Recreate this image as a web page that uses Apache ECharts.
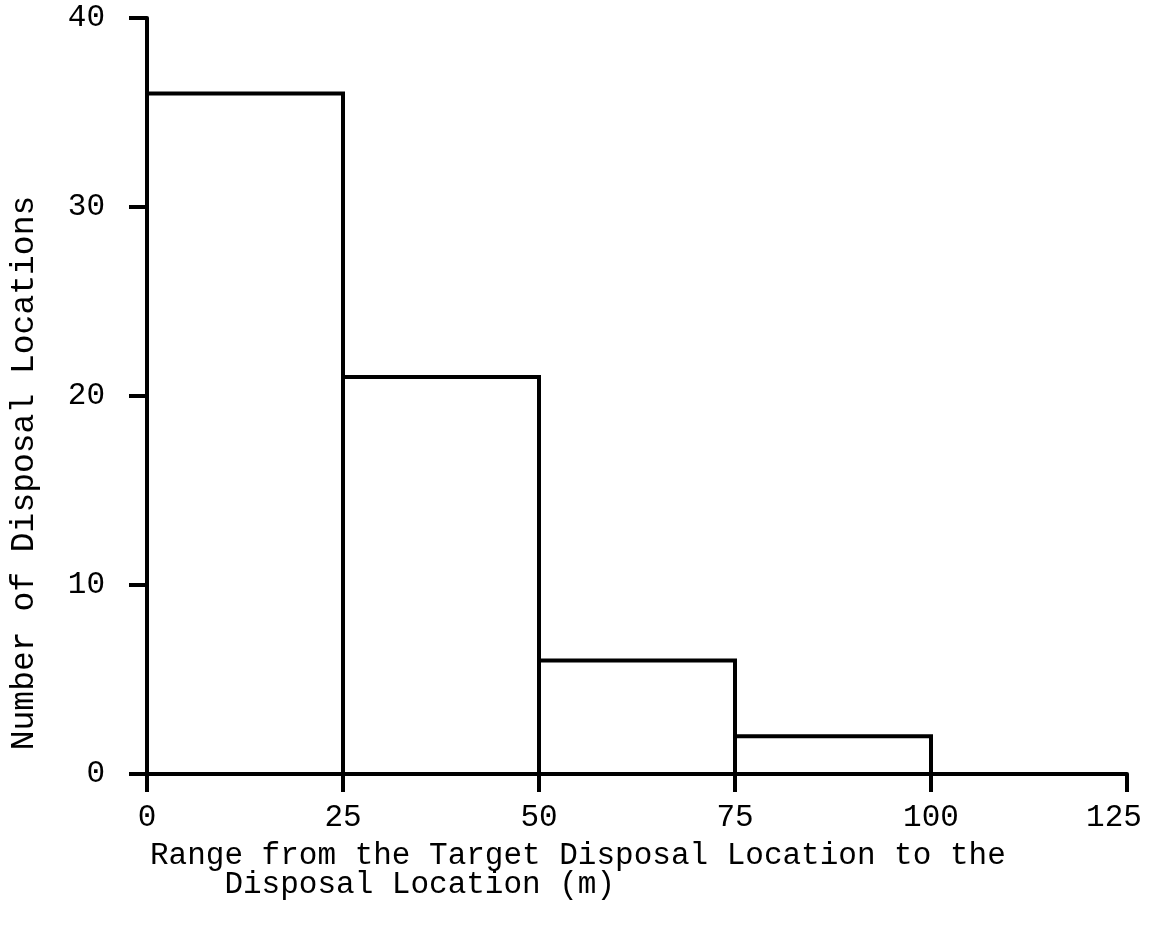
<!DOCTYPE html>
<html>
<head>
<meta charset="utf-8">
<script src="https://cdn.jsdelivr.net/npm/echarts@6/dist/echarts.min.js"></script>
<style>
  html, body { margin: 0; padding: 0; background: #fff; }
  #chart { width: 1150px; height: 925px; }
</style>
</head>
<body>
<div id="chart"></div>
<script>
// histogram bins (m) and counts
const binStart = [0, 25, 50, 75, 100]
const binEnd = [25, 50, 75, 100, 125]
const counts = [36, 21, 6, 2, 0]
const xTicks = [0, 25, 50, 75, 100, 125]
const yTicks = [0, 10, 20, 30, 40]

const FONT = 'Liberation Mono'

var myChart = echarts.init(document.getElementById('chart'))

var data = binStart.map((s, i) => [s, binEnd[i], counts[i]])

var option = {
    animation: false,
    backgroundColor: '#fff',
    title: {
        text: 'Range from the Target Disposal Location to the\n    Disposal Location (m)',
        left: 145,
        top: 836,
        textStyle: {
            fontFamily: FONT,
            fontSize: 31,
            fontWeight: 'normal',
            color: '#000',
            lineHeight: 29
        }
    },
    graphic: [{
        type: 'text',
        x: 24,
        y: 473,
        rotation: Math.PI / 2,
        style: {
            text: 'Number of Disposal Locations',
            font: '33px "' + FONT + '"',
            fill: '#000',
            align: 'center',
            verticalAlign: 'middle'
        }
    }],
    grid: {
        left: 147,
        right: 23,
        top: 18,
        bottom: 151,
        outerBoundsMode: 'none'
    },
    xAxis: {
        type: 'value',
        min: xTicks[0],
        max: xTicks[xTicks.length - 1],
        interval: 25,
        splitLine: { show: false },
        axisLine: { show: true, lineStyle: { color: '#000', width: 4 } },
        axisTick: { show: true, length: 18, lineStyle: { color: '#000', width: 4 } },
        axisLabel: {
            fontFamily: FONT, fontSize: 31, color: '#000', margin: 28,
            // last label sits a little left of its tick, as in the original
            formatter: v => v === xTicks[xTicks.length - 1] ? '{last|' + v + '}' : '' + v,
            rich: {
                last: { fontFamily: FONT, fontSize: 31, color: '#000', padding: [0, 26, 0, 0] }
            }
        }
    },
    yAxis: {
        type: 'value',
        min: yTicks[0],
        max: yTicks[yTicks.length - 1],
        interval: 10,
        splitLine: { show: false },
        axisLine: { show: true, lineStyle: { color: '#000', width: 4 } },
        axisTick: { show: true, length: 18, lineStyle: { color: '#000', width: 4 } },
        axisLabel: { fontFamily: FONT, fontSize: 31, color: '#000', margin: 42 }
    },
    series: [{
        type: 'custom',
        data: data,
        renderItem: function (params, api) {
            var p0 = api.coord([api.value(0), api.value(2)])
            var p1 = api.coord([api.value(1), 0])
            if (api.value(2) <= 0) return null
            return {
                type: 'rect',
                shape: { x: p0[0], y: p0[1], width: p1[0] - p0[0], height: p1[1] - p0[1] },
                style: { fill: 'none', stroke: '#000', lineWidth: 4 }
            }
        }
    }]
}
myChart.setOption(option)
</script>
</body>
</html>
